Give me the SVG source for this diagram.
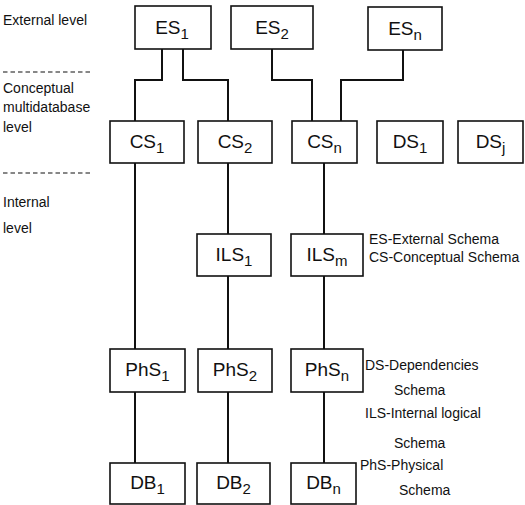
<svg xmlns="http://www.w3.org/2000/svg" width="525" height="505" viewBox="0 0 525 505">
<style>
.box{fill:#fff;stroke:#111;stroke-width:1.6}
.lbl{font-family:"Liberation Sans",Arial,sans-serif;font-size:19px;fill:#111;text-anchor:middle}
.sub{font-size:15px}
.con{fill:none;stroke:#111;stroke-width:2}
.side{font-family:"Liberation Sans",Arial,sans-serif;font-size:14px;fill:#111}
.dash{stroke:#111;stroke-width:1.2;stroke-dasharray:4.5,3}
</style>
<rect width="525" height="505" fill="#fff"/>
<g id="levels">
<text class="side" x="3" y="25">External level</text>
<line class="dash" x1="3" y1="72" x2="92" y2="72"/>
<text class="side" x="3" y="93">Conceptual</text>
<text class="side" x="3" y="112">multidatabase</text>
<text class="side" x="3" y="132">level</text>
<line class="dash" x1="3" y1="173" x2="92" y2="173"/>
<text class="side" x="3" y="207">Internal</text>
<text class="side" x="3" y="233">level</text>
</g>
<g id="connectors">
<polyline class="con" points="162,49 162,80 135,80 135,121"/>
<polyline class="con" points="183,49 183,80 228,80 228,121"/>
<polyline class="con" points="272,49 272,80 312,80 312,121"/>
<polyline class="con" points="403,50 403,80 341,80 341,121"/>
<line class="con" x1="135" y1="163" x2="135" y2="349"/>
<line class="con" x1="228" y1="163" x2="228" y2="234"/>
<line class="con" x1="228" y1="276" x2="228" y2="349"/>
<line class="con" x1="324" y1="163" x2="324" y2="234"/>
<line class="con" x1="324" y1="276" x2="324" y2="349"/>
<line class="con" x1="135" y1="392" x2="135" y2="463"/>
<line class="con" x1="228" y1="392" x2="228" y2="463"/>
<line class="con" x1="324" y1="392" x2="324" y2="463"/>
</g>
<g id="ES1"><rect class="box" x="135" y="6" width="76" height="43"/><text class="lbl" x="172" y="34">ES<tspan class="sub" dy="5">1</tspan></text></g>
<g id="ES2"><rect class="box" x="231" y="6" width="82" height="43"/><text class="lbl" x="272" y="34">ES<tspan class="sub" dy="5">2</tspan></text></g>
<g id="ESn"><rect class="box" x="368" y="7" width="74" height="43"/><text class="lbl" x="405" y="35">ES<tspan class="sub" dy="5">n</tspan></text></g>
<g id="CS1"><rect class="box" x="110" y="121" width="74" height="42"/><text class="lbl" x="147" y="148">CS<tspan class="sub" dy="5">1</tspan></text></g>
<g id="CS2"><rect class="box" x="198" y="121" width="74" height="42"/><text class="lbl" x="235" y="148">CS<tspan class="sub" dy="5">2</tspan></text></g>
<g id="CSn"><rect class="box" x="292" y="121" width="65" height="42"/><text class="lbl" x="324.5" y="148">CS<tspan class="sub" dy="5">n</tspan></text></g>
<g id="DS1"><rect class="box" x="377" y="121" width="66" height="42"/><text class="lbl" x="410" y="148">DS<tspan class="sub" dy="5">1</tspan></text></g>
<g id="DSj"><rect class="box" x="458" y="121" width="65" height="42"/><text class="lbl" x="490.5" y="148">DS<tspan class="sub" dy="5">j</tspan></text></g>
<g id="ILS1"><rect class="box" x="197" y="234" width="74" height="42"/><text class="lbl" x="234" y="261">ILS<tspan class="sub" dy="5">1</tspan></text></g>
<g id="ILSm"><rect class="box" x="291" y="234" width="72" height="42"/><text class="lbl" x="327" y="261">ILS<tspan class="sub" dy="5">m</tspan></text></g>
<g id="PhS1"><rect class="box" x="110" y="349" width="75" height="43"/><text class="lbl" x="147.5" y="376">PhS<tspan class="sub" dy="5">1</tspan></text></g>
<g id="PhS2"><rect class="box" x="198" y="349" width="74" height="43"/><text class="lbl" x="235" y="376">PhS<tspan class="sub" dy="5">2</tspan></text></g>
<g id="PhSn"><rect class="box" x="291" y="349" width="72" height="43"/><text class="lbl" x="327" y="376">PhS<tspan class="sub" dy="5">n</tspan></text></g>
<g id="DB1"><rect class="box" x="110" y="463" width="75" height="41"/><text class="lbl" x="147.5" y="489">DB<tspan class="sub" dy="5">1</tspan></text></g>
<g id="DB2"><rect class="box" x="197" y="463" width="73" height="41"/><text class="lbl" x="233.5" y="489">DB<tspan class="sub" dy="5">2</tspan></text></g>
<g id="DBn"><rect class="box" x="291" y="463" width="65" height="41"/><text class="lbl" x="323.5" y="489">DB<tspan class="sub" dy="5">n</tspan></text></g>
<g id="legend">
<text class="side" x="369" y="244">ES-External Schema</text>
<text class="side" x="369" y="262">CS-Conceptual Schema</text>
<text class="side" x="365" y="370">DS-Dependencies</text>
<text class="side" x="394" y="395">Schema</text>
<text class="side" x="365" y="418">ILS-Internal logical</text>
<text class="side" x="394" y="448">Schema</text>
<text class="side" x="360" y="470">PhS-Physical</text>
<text class="side" x="399" y="495">Schema</text>
</g>
</svg>
